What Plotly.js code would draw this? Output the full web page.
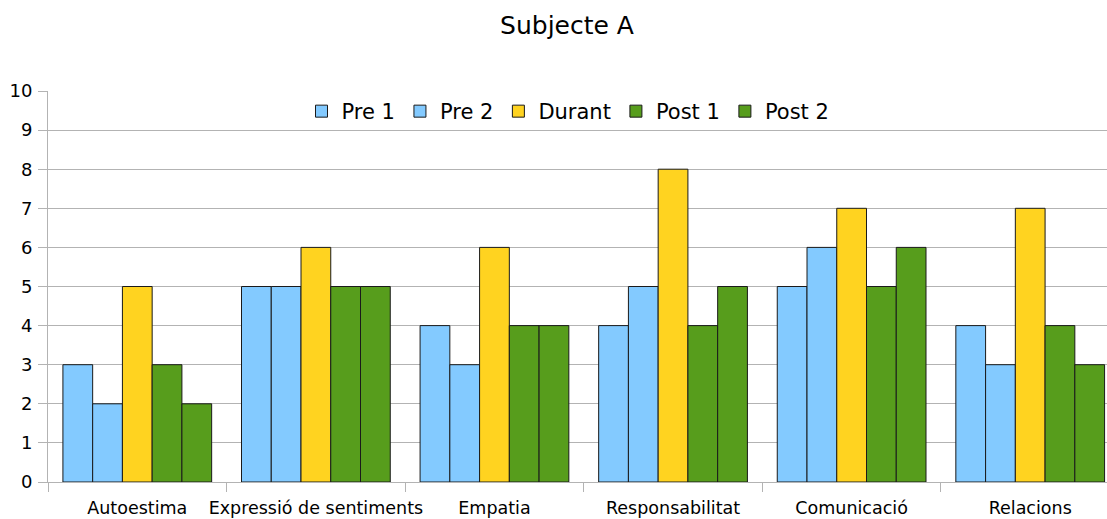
<!DOCTYPE html>
<html>
<head>
<meta charset="utf-8">
<script src="https://cdn.plot.ly/plotly-3.0.1.min.js"></script>
<style>html,body{margin:0;padding:0;background:#fff;}#chart{width:1107px;height:519px;}</style>
</head>
<body>
<div id="chart"></div>
<script>
const categories = ["Autoestima", "Expressió de sentiments", "Empatia", "Responsabilitat", "Comunicació", "Relacions"];
const seriesNames = ["Pre 1", "Pre 2", "Durant", "Post 1", "Post 2"];
const pre1 = [3, 5, 4, 4, 5, 4];
const pre2 = [2, 5, 3, 5, 6, 3];
const durant = [5, 6, 6, 8, 7, 7];
const post1 = [3, 5, 4, 4, 5, 4];
const post2 = [2, 5, 4, 5, 6, 3];
const yTicks = [0, 1, 2, 3, 4, 5, 6, 7, 8, 9, 10];

const colors = ["#83caff", "#83caff", "#ffd320", "#579d1c", "#579d1c"];
const values = [pre1, pre2, durant, post1, post2];
const font = "DejaVu Sans, Verdana, sans-serif";

const traces = values.map((v, i) => ({
  type: "bar",
  name: seriesNames[i],
  x: categories,
  y: v,
  marker: {color: colors[i], line: {color: "#1a1a1a", width: 1}}
}));

const layout = {
  width: 1107, height: 519,
  margin: {l: 48, r: 0, t: 91, b: 37},
  paper_bgcolor: "#fff", plot_bgcolor: "#fff",
  font: {family: font, color: "#000"},
  title: {text: "Subjecte A", font: {family: font, size: 25, color: "#000"}, x: 567/1107, xref: "container", y: 1 - 25/519, yref: "container", xanchor: "center", yanchor: "middle"},
  barmode: "group",
  bargap: 0.167,
  bargroupgap: 0,
  showlegend: true,
  legend: {orientation: "h", x: (568-48)/1059, xanchor: "center", y: 1, yanchor: "top", font: {family: font, size: 21, color: "#000"}, bgcolor: "rgba(0,0,0,0)", itemwidth: 30, tracegroupgap: 0, traceorder: "normal"},
  xaxis: {
    type: "category", range: [-0.5, 5.43],
    tickson: "boundaries", ticks: "outside", ticklen: 9, tickcolor: "#b3b3b3", tickwidth: 1,
    showline: true, linecolor: "#b3b3b3", linewidth: 1,
    showgrid: false, zeroline: false, tickangle: 0,
    tickfont: {family: font, size: 17.5, color: "#000"}, ticklabelstandoff: 10
  },
  yaxis: {
    range: [0, 10], tickvals: yTicks, ticktext: yTicks.map(String),
    ticks: "outside", ticklen: 9, tickcolor: "#b3b3b3", tickwidth: 1,
    showline: true, linecolor: "#b3b3b3", linewidth: 1,
    showgrid: true, gridcolor: "#b3b3b3", gridwidth: 1, zeroline: false,
    tickfont: {family: font, size: 18, color: "#000"}, ticklabelstandoff: 2
  }
};

Plotly.newPlot("chart", traces, layout, {displayModeBar: false, staticPlot: true});
</script>
</body>
</html>
